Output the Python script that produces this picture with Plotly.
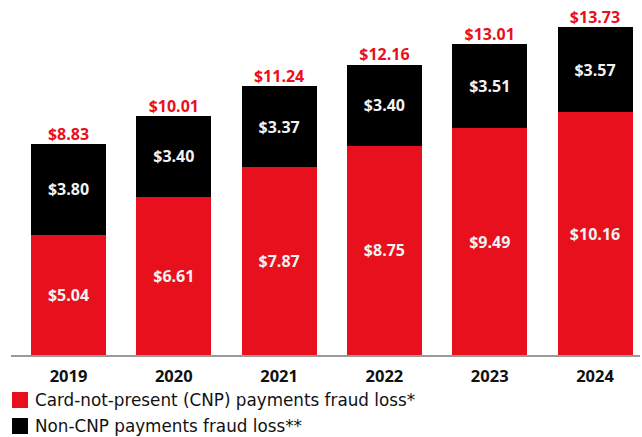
import plotly.graph_objects as go

years = ["2019", "2020", "2021", "2022", "2023", "2024"]
cnp = [5.04, 6.61, 7.87, 8.75, 9.49, 10.16]
non_cnp = [3.80, 3.40, 3.37, 3.40, 3.51, 3.57]
totals = [8.83, 10.01, 11.24, 12.16, 13.01, 13.73]
legend_labels = ["Card-not-present (CNP) payments fraud loss*", "Non-CNP payments fraud loss**"]

RED = "#E8101C"
BLACK = "#000000"
FONT = "Open Sans"
LEG_FONT = "DejaVu Sans"

xs = list(range(len(years)))

fig = go.Figure()
fig.add_trace(go.Bar(
    x=xs, y=cnp, name=legend_labels[0], marker=dict(color=RED, line=dict(width=0)),
    text=[f"${v:.2f}" for v in cnp], textposition="inside", insidetextanchor="middle",
    textfont=dict(color="#F2F2F2", size=16, family=FONT, weight="bold"),
))
fig.add_trace(go.Bar(
    x=xs, y=non_cnp, name=legend_labels[1], marker=dict(color=BLACK, line=dict(width=0)),
    text=[f"${v:.2f}" for v in non_cnp], textposition="inside", insidetextanchor="middle",
    textfont=dict(color="#F2F2F2", size=16, family=FONT, weight="bold"),
))
# total labels above bars
fig.add_trace(go.Scatter(
    x=xs, y=totals, mode="text", text=[f"${v:.2f}" for v in totals],
    textposition="top center", textfont=dict(color=RED, size=16, family=FONT, weight="bold"),
    showlegend=False, hoverinfo="skip", cliponaxis=False,
))

fig.update_layout(
    barmode="stack", bargap=0.288, showlegend=False,
    width=642, height=437, margin=dict(l=11, r=2, t=5, b=82),
    paper_bgcolor="white", plot_bgcolor="white",
    font=dict(family=FONT),
    uniformtext=dict(mode="show", minsize=10),
)
fig.update_xaxes(
    range=[-0.546, 5.427], tickmode="array", tickvals=xs, ticktext=years,
    showgrid=False, zeroline=False, showline=True, linecolor="#9A9A9A", linewidth=2,
    ticks="outside", ticklen=5, tickcolor="rgba(0,0,0,0)",
    tickfont=dict(size=16.5, color="#111111", family=FONT, weight="bold"),
)
fig.update_yaxes(range=[0, 14.65], visible=False, showgrid=False, zeroline=False)

# legend drawn manually
legend_colors = [RED, BLACK]
legend_y = [400, 426]
for label, col, yc in zip(legend_labels, legend_colors, legend_y):
    fig.add_shape(type="rect", xref="paper", yref="paper",
                  x0=(12 - 11) / 629, x1=(28 - 11) / 629,
                  y0=(437 - 82 - (yc + 8)) / 350, y1=(437 - 82 - (yc - 8)) / 350,
                  fillcolor=col, line=dict(width=0))
    fig.add_annotation(xref="paper", yref="paper", x=(33 - 11) / 629, y=(437 - 82 - yc) / 350,
                       text=label, showarrow=False, xanchor="left", yanchor="middle",
                       font=dict(size=16.8, color="#111111", family=LEG_FONT))

fig.write_html("out.html", config={"displayModeBar": False},
               post_script="document.body.style.margin='0';")
